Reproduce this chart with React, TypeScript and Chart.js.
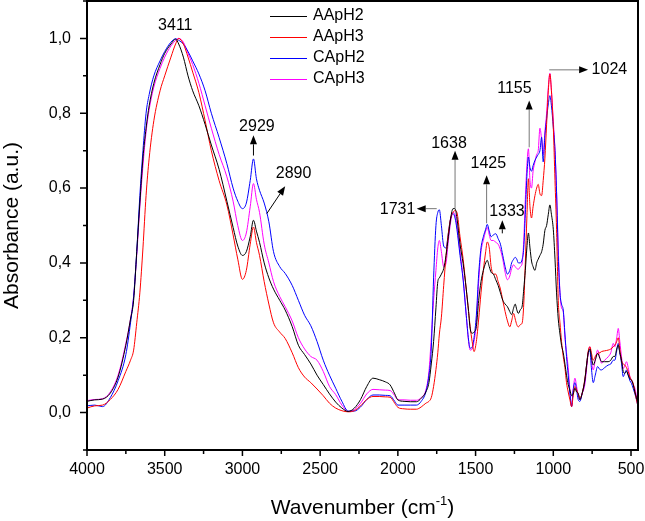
import React, { useEffect, useRef } from 'react';
import { Chart, registerables } from 'chart.js';

Chart.register(...registerables);

const FONT = "'Liberation Sans', Arial, Helvetica, sans-serif";

// Wavenumber (cm-1) sampling of the spectra
const wavenumbers = [
  4000, 3950, 3900, 3850, 3800, 3750, 3720, 3700, 3680, 3660,
  3640, 3620, 3600, 3570, 3530, 3500, 3460, 3430, 3410, 3380,
  3350, 3320, 3280, 3240, 3200, 3150, 3100, 3060, 3030, 3000,
  2975, 2950, 2929, 2910, 2890, 2860, 2830, 2800, 2760, 2725,
  2680, 2640, 2600, 2560, 2520, 2480, 2440, 2400, 2360, 2320,
  2280, 2240, 2200, 2160, 2120, 2080, 2050, 2020, 2000, 1960,
  1920, 1880, 1850, 1820, 1800, 1785, 1770, 1755, 1743, 1733,
  1720, 1705, 1690, 1675, 1660, 1645, 1632, 1620, 1600, 1580,
  1560, 1545, 1535, 1522, 1510, 1495, 1480, 1465, 1450, 1435,
  1425, 1412, 1400, 1385, 1370, 1355, 1340, 1325, 1310, 1295,
  1280, 1268, 1255, 1245, 1235, 1225, 1212, 1200, 1190, 1180,
  1170, 1160, 1150, 1140, 1130, 1118, 1107, 1097, 1086, 1075,
  1065, 1054, 1043, 1032, 1022, 1012, 1000, 989, 979, 968,
  957, 947, 936, 925, 915, 904, 893, 882, 872, 861,
  850, 840, 829, 815, 797, 785, 775, 764, 755, 743,
  730, 715, 700, 690, 670, 647, 630, 614, 604, 592,
  582, 572, 561, 550, 540, 529, 518, 507, 497, 486,
  475, 465, 455,
];

const AApH2 = [
  0.030, 0.034, 0.036, 0.052, 0.095, 0.180, 0.250, 0.300, 0.430, 0.560,
  0.680, 0.760, 0.820, 0.880, 0.930, 0.960, 0.985, 0.998, 0.985, 0.950,
  0.900, 0.860, 0.820, 0.770, 0.715, 0.650, 0.565, 0.495, 0.445, 0.420,
  0.430, 0.470, 0.514, 0.485, 0.455, 0.400, 0.360, 0.330, 0.300, 0.274,
  0.230, 0.180, 0.155, 0.130, 0.100, 0.075, 0.050, 0.028, 0.012, 0.003,
  0.012, 0.035, 0.070, 0.092, 0.088, 0.082, 0.074, 0.050, 0.034, 0.030,
  0.029, 0.029, 0.038, 0.055, 0.080, 0.130, 0.190, 0.280, 0.350, 0.360,
  0.370, 0.385, 0.420, 0.470, 0.520, 0.545, 0.545, 0.520, 0.450, 0.398,
  0.330, 0.270, 0.225, 0.212, 0.215, 0.230, 0.300, 0.350, 0.380, 0.400,
  0.407, 0.390, 0.375, 0.370, 0.355, 0.340, 0.320, 0.300, 0.290, 0.283,
  0.270, 0.262, 0.280, 0.290, 0.275, 0.265, 0.275, 0.285, 0.330, 0.380,
  0.440, 0.480, 0.440, 0.405, 0.390, 0.380, 0.400, 0.410, 0.420, 0.430,
  0.450, 0.487, 0.500, 0.530, 0.555, 0.530, 0.490, 0.410, 0.320, 0.250,
  0.210, 0.180, 0.160, 0.130, 0.100, 0.075, 0.060, 0.045, 0.050, 0.065,
  0.055, 0.052, 0.034, 0.050, 0.087, 0.130, 0.160, 0.170, 0.150, 0.127,
  0.140, 0.158, 0.145, 0.136, 0.136, 0.136, 0.140, 0.150, 0.150, 0.170,
  0.180, 0.160, 0.140, 0.110, 0.105, 0.110, 0.100, 0.090, 0.087, 0.075,
  0.055, 0.040, 0.025,
];

const AApH3 = [
  0.012, 0.018, 0.020, 0.035, 0.062, 0.110, 0.140, 0.167, 0.240, 0.320,
  0.440, 0.580, 0.680, 0.780, 0.860, 0.900, 0.950, 0.985, 1.000, 0.985,
  0.950, 0.910, 0.855, 0.780, 0.700, 0.620, 0.555, 0.475, 0.410, 0.356,
  0.380, 0.450, 0.496, 0.455, 0.420, 0.350, 0.290, 0.240, 0.215, 0.198,
  0.160, 0.120, 0.095, 0.080, 0.063, 0.045, 0.025, 0.012, 0.005, 0.002,
  0.005, 0.018, 0.035, 0.043, 0.043, 0.042, 0.041, 0.025, 0.014, 0.010,
  0.009, 0.009, 0.015, 0.025, 0.030, 0.040, 0.070, 0.115, 0.160, 0.210,
  0.255, 0.340, 0.420, 0.480, 0.520, 0.535, 0.540, 0.535, 0.470, 0.410,
  0.330, 0.270, 0.230, 0.190, 0.163, 0.190, 0.250, 0.320, 0.380, 0.430,
  0.456, 0.440, 0.390, 0.370, 0.370, 0.350, 0.330, 0.300, 0.270, 0.245,
  0.229, 0.245, 0.265, 0.250, 0.235, 0.229, 0.235, 0.240, 0.290, 0.400,
  0.520, 0.625, 0.550, 0.520, 0.550, 0.580, 0.600, 0.610, 0.585, 0.580,
  0.620, 0.680, 0.770, 0.860, 0.905, 0.860, 0.763, 0.620, 0.490, 0.300,
  0.240, 0.190, 0.150, 0.120, 0.080, 0.055, 0.034, 0.016, 0.045, 0.070,
  0.060, 0.050, 0.040, 0.050, 0.090, 0.130, 0.165, 0.176, 0.160, 0.140,
  0.150, 0.158, 0.160, 0.163, 0.165, 0.167, 0.170, 0.176, 0.180, 0.190,
  0.200, 0.170, 0.138, 0.130, 0.127, 0.120, 0.110, 0.095, 0.087, 0.078,
  0.055, 0.035, 0.016,
];

const CApH2 = [
  0.018, 0.020, 0.016, 0.040, 0.085, 0.155, 0.240, 0.310, 0.430, 0.580,
  0.700, 0.800, 0.850, 0.900, 0.940, 0.965, 0.990, 0.999, 0.995, 0.985,
  0.965, 0.940, 0.905, 0.860, 0.800, 0.735, 0.665, 0.600, 0.565, 0.545,
  0.560, 0.620, 0.678, 0.625, 0.594, 0.560, 0.510, 0.430, 0.390, 0.372,
  0.340, 0.300, 0.260, 0.232, 0.190, 0.140, 0.100, 0.065, 0.030, 0.004,
  0.004, 0.015, 0.035, 0.047, 0.047, 0.046, 0.045, 0.030, 0.020, 0.020,
  0.020, 0.020, 0.030, 0.055, 0.100, 0.170, 0.360, 0.500, 0.535, 0.542,
  0.500, 0.445, 0.440, 0.480, 0.520, 0.532, 0.520, 0.490, 0.420, 0.354,
  0.260, 0.194, 0.172, 0.175, 0.200, 0.260, 0.370, 0.440, 0.470, 0.490,
  0.503, 0.485, 0.470, 0.475, 0.478, 0.465, 0.450, 0.420, 0.390, 0.370,
  0.380, 0.400, 0.410, 0.415, 0.410, 0.400, 0.400, 0.410, 0.440, 0.530,
  0.630, 0.683, 0.655, 0.645, 0.660, 0.674, 0.683, 0.690, 0.700, 0.736,
  0.670, 0.740, 0.785, 0.825, 0.847, 0.820, 0.763, 0.700, 0.590, 0.420,
  0.320, 0.290, 0.274, 0.210, 0.150, 0.100, 0.050, 0.016, 0.060, 0.080,
  0.060, 0.035, 0.030, 0.050, 0.085, 0.130, 0.160, 0.165, 0.120, 0.080,
  0.100, 0.123, 0.115, 0.114, 0.120, 0.127, 0.130, 0.140, 0.140, 0.165,
  0.185, 0.160, 0.132, 0.096, 0.105, 0.114, 0.100, 0.085, 0.078, 0.065,
  0.050, 0.035, 0.016,
];

const CApH3 = [
  0.032, 0.035, 0.037, 0.055, 0.100, 0.185, 0.250, 0.310, 0.420, 0.550,
  0.660, 0.750, 0.810, 0.870, 0.920, 0.950, 0.980, 0.995, 1.000, 0.990,
  0.960, 0.930, 0.880, 0.820, 0.760, 0.690, 0.630, 0.565, 0.500, 0.460,
  0.480, 0.550, 0.612, 0.570, 0.535, 0.450, 0.400, 0.350, 0.310, 0.283,
  0.245, 0.200, 0.170, 0.150, 0.140, 0.110, 0.070, 0.048, 0.020, 0.003,
  0.008, 0.025, 0.050, 0.062, 0.061, 0.060, 0.059, 0.045, 0.034, 0.034,
  0.033, 0.033, 0.040, 0.060, 0.110, 0.200, 0.300, 0.380, 0.440, 0.460,
  0.430, 0.390, 0.400, 0.460, 0.510, 0.535, 0.530, 0.500, 0.430, 0.360,
  0.260, 0.190, 0.167, 0.170, 0.190, 0.240, 0.350, 0.430, 0.460, 0.485,
  0.495, 0.475, 0.460, 0.460, 0.455, 0.450, 0.435, 0.410, 0.375, 0.355,
  0.365, 0.385, 0.395, 0.390, 0.385, 0.383, 0.390, 0.400, 0.460, 0.570,
  0.660, 0.705, 0.620, 0.600, 0.645, 0.670, 0.690, 0.700, 0.760, 0.730,
  0.690, 0.750, 0.800, 0.870, 0.907, 0.860, 0.780, 0.700, 0.590, 0.440,
  0.320, 0.280, 0.270, 0.200, 0.160, 0.120, 0.060, 0.016, 0.060, 0.092,
  0.070, 0.045, 0.034, 0.050, 0.075, 0.120, 0.160, 0.176, 0.140, 0.114,
  0.140, 0.167, 0.145, 0.132, 0.140, 0.149, 0.160, 0.185, 0.176, 0.200,
  0.225, 0.190, 0.149, 0.118, 0.125, 0.136, 0.120, 0.096, 0.087, 0.075,
  0.065, 0.045, 0.025,
];

const seriesNames = ['AApH2', 'AApH3', 'CApH2', 'CApH3'];
const seriesValues = [AApH2, AApH3, CApH2, CApH3];
const seriesColors = ['#000000', '#ff0000', '#0000ff', '#ff00ff'];

const xTickValues = [4000, 3500, 3000, 2500, 2000, 1500, 1000, 500];
const yTickValues = [0, 0.2, 0.4, 0.6, 0.8, 1.0];

// Peak annotations (data coordinates)
const peakTexts = ['3411', '2929', '2890', '1638', '1425', '1333', '1731', '1155', '1024'];
const peakTextWn = [3432, 2907, 2671, 1671, 1418, 1298, 2002, 1250, 639];
const peakTextAbs = [1.034, 0.765, 0.64, 0.718, 0.665, 0.536, 0.542, 0.865, 0.916];
// arrows: from (wn, abs) -> tip (wn, abs); null for no arrow
const arrowFromWn = [null, 2929, 2843, 1632, 1429, 1328, 1750, 1155, 1026];
const arrowFromAbs = [null, 0.687, 0.532, 0.545, 0.506, 0.479, 0.545, 0.709, 0.916];
const arrowToWn = [null, 2929, 2725, 1632, 1429, 1328, 1879, 1155, 776];
const arrowToAbs = [null, 0.741, 0.605, 0.70, 0.634, 0.514, 0.545, 0.834, 0.916];
const arrowColors = [null, '#000', '#000', '#777', '#777', '#000', '#777', '#777', '#777'];

const overlayPlugin = {
  id: 'overlay',
  afterDraw(chart: any) {
    const { ctx, chartArea: a, scales } = chart;
    const xs = scales.x;
    const ys = scales.y;
    ctx.save();

    // tick marks (outward)
    ctx.strokeStyle = '#000';
    ctx.lineWidth = 1.5;
    ctx.beginPath();
    for (let v = 500; v <= 4000; v += 250) {
      const px = xs.getPixelForValue(v);
      const len = v % 500 === 0 ? 6 : 4;
      ctx.moveTo(px, a.bottom);
      ctx.lineTo(px, a.bottom + len);
    }
    for (let i = -1; i <= 11; i++) {
      const py = ys.getPixelForValue(i / 10);
      const len = i % 2 === 0 ? 7 : 4;
      ctx.moveTo(a.left, py);
      ctx.lineTo(a.left - len, py);
    }
    ctx.stroke();

    // frame
    ctx.lineWidth = 2;
    ctx.strokeRect(a.left, a.top, a.right - a.left, a.bottom - a.top);

    // legend
    ctx.font = `16px ${FONT}`;
    ctx.textAlign = 'left';
    ctx.textBaseline = 'middle';
    for (let i = 0; i < seriesNames.length; i++) {
      const y = Math.round(a.top + 15 + i * 21);
      ctx.fillStyle = seriesColors[i];
      ctx.fillRect(a.left + 183, y, 37, 1);
      ctx.fillStyle = '#000';
      ctx.fillText(seriesNames[i], a.left + 226, y);
    }

    // arrows
    for (let i = 0; i < peakTexts.length; i++) {
      if (arrowFromWn[i] == null) continue;
      const x1 = xs.getPixelForValue(arrowFromWn[i]);
      const y1 = ys.getPixelForValue(arrowFromAbs[i]);
      const x2 = xs.getPixelForValue(arrowToWn[i]);
      const y2 = ys.getPixelForValue(arrowToAbs[i]);
      const ang = Math.atan2(y2 - y1, x2 - x1);
      const hl = 9;
      const hw = 3.5;
      const bx = x2 - hl * Math.cos(ang);
      const by = y2 - hl * Math.sin(ang);
      ctx.strokeStyle = arrowColors[i] as string;
      ctx.lineWidth = 1;
      ctx.beginPath();
      ctx.moveTo(x1, y1);
      ctx.lineTo(bx, by);
      ctx.stroke();
      ctx.fillStyle = '#000';
      ctx.beginPath();
      ctx.moveTo(x2, y2);
      ctx.lineTo(bx + hw * Math.sin(ang), by - hw * Math.cos(ang));
      ctx.lineTo(bx - hw * Math.sin(ang), by + hw * Math.cos(ang));
      ctx.closePath();
      ctx.fill();
    }

    // peak labels
    ctx.fillStyle = '#000';
    ctx.font = `16px ${FONT}`;
    ctx.textAlign = 'center';
    ctx.textBaseline = 'middle';
    for (let i = 0; i < peakTexts.length; i++) {
      ctx.fillText(peakTexts[i], xs.getPixelForValue(peakTextWn[i]), ys.getPixelForValue(peakTextAbs[i]));
    }

    // x axis title with superscript
    const main = 'Wavenumber (cm';
    const sup = '-1';
    const end = ')';
    ctx.textAlign = 'left';
    ctx.textBaseline = 'alphabetic';
    ctx.font = `21px ${FONT}`;
    const w1 = ctx.measureText(main).width;
    const w3 = ctx.measureText(end).width;
    ctx.font = `13px ${FONT}`;
    const w2 = ctx.measureText(sup).width;
    const cx = (a.left + a.right) / 2;
    let x = cx - (w1 + w2 + w3) / 2;
    const base = 513.5;
    ctx.font = `21px ${FONT}`;
    ctx.fillText(main, x, base);
    x += w1;
    ctx.font = `13px ${FONT}`;
    ctx.fillText(sup, x, base - 9);
    x += w2;
    ctx.font = `21px ${FONT}`;
    ctx.fillText(end, x, base);

    ctx.restore();
  },
};

export default function App() {
  const ref = useRef<HTMLCanvasElement>(null);

  useEffect(() => {
    const canvas = ref.current;
    if (!canvas) return;
    const chart = new Chart(canvas, {
      type: 'line',
      data: {
        datasets: seriesNames.map((name, s) => ({
          label: name,
          data: wavenumbers.map((w, i) => ({ x: w, y: seriesValues[s][i] })),
          borderColor: seriesColors[s],
          backgroundColor: seriesColors[s],
          borderWidth: 1,
          pointRadius: 0,
          fill: false,
          cubicInterpolationMode: 'monotone' as const,
        })),
      },
      options: {
        responsive: false,
        animation: false,
        devicePixelRatio: 1,
        layout: { padding: { top: 1, right: 7, left: 0, bottom: 0 } },
        plugins: {
          legend: { display: false },
          tooltip: { enabled: false },
        },
        scales: {
          x: {
            type: 'linear',
            reverse: true,
            min: 455,
            max: 4000,
            grid: { display: false, drawTicks: false },
            border: { display: false },
            afterBuildTicks: (s: any) => {
              s.ticks = xTickValues.map((v) => ({ value: v }));
            },
            afterFit: (s: any) => {
              s.height = 71;
              s.paddingLeft = 0;
              s.paddingRight = 0;
            },
            ticks: {
              padding: 10,
              autoSkip: false,
              maxRotation: 0,
              color: '#000',
              font: { size: 16, family: FONT },
              callback: (v: any) => String(v),
            },
          },
          y: {
            type: 'linear',
            min: -0.1,
            max: 1.1,
            grid: { display: false, drawTicks: false },
            border: { display: false },
            afterBuildTicks: (s: any) => {
              s.ticks = yTickValues.map((v) => ({ value: v }));
            },
            afterFit: (s: any) => {
              s.width = 87;
              s.paddingTop = 0;
              s.paddingBottom = 0;
            },
            ticks: {
              padding: 16,
              color: '#000',
              font: { size: 16, family: FONT },
              callback: (v: any) => Number(v).toFixed(1).replace('.', ','),
            },
            title: {
              display: true,
              text: 'Absorbance (a.u.)',
              color: '#000',
              font: { size: 21, family: FONT },
              padding: 0,
            },
          },
        },
      },
      plugins: [overlayPlugin],
    } as any);
    return () => chart.destroy();
  }, []);

  return (
    <div style={{ position: 'fixed', left: 0, top: 0, width: 645, height: 521, background: '#fff' }}>
      <canvas ref={ref} width={645} height={521} style={{ display: 'block' }} />
    </div>
  );
}
